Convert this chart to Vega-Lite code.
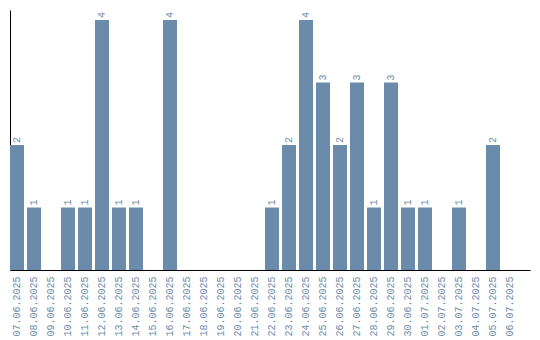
{
  "$schema": "https://vega.github.io/schema/vega-lite/v6.json",
  "width": 520,
  "height": 260,
  "autosize": {"type": "none"},
  "padding": {"left": 10, "top": 10, "right": 10, "bottom": 70},
  "background": "white",
  "config": {"view": {"stroke": null}},
  "data": {"values": [
    {"date": "07.06.2025", "count": 2},
    {"date": "08.06.2025", "count": 1},
    {"date": "09.06.2025", "count": 0},
    {"date": "10.06.2025", "count": 1},
    {"date": "11.06.2025", "count": 1},
    {"date": "12.06.2025", "count": 4},
    {"date": "13.06.2025", "count": 1},
    {"date": "14.06.2025", "count": 1},
    {"date": "15.06.2025", "count": 0},
    {"date": "16.06.2025", "count": 4},
    {"date": "17.06.2025", "count": 0},
    {"date": "18.06.2025", "count": 0},
    {"date": "19.06.2025", "count": 0},
    {"date": "20.06.2025", "count": 0},
    {"date": "21.06.2025", "count": 0},
    {"date": "22.06.2025", "count": 1},
    {"date": "23.06.2025", "count": 2},
    {"date": "24.06.2025", "count": 4},
    {"date": "25.06.2025", "count": 3},
    {"date": "26.06.2025", "count": 2},
    {"date": "27.06.2025", "count": 3},
    {"date": "28.06.2025", "count": 1},
    {"date": "29.06.2025", "count": 3},
    {"date": "30.06.2025", "count": 1},
    {"date": "01.07.2025", "count": 1},
    {"date": "02.07.2025", "count": 0},
    {"date": "03.07.2025", "count": 1},
    {"date": "04.07.2025", "count": 0},
    {"date": "05.07.2025", "count": 2},
    {"date": "06.07.2025", "count": 0}
  ]},
  "encoding": {
    "x": {
      "field": "date",
      "type": "ordinal",
      "sort": null,
      "scale": {"paddingInner": 0.176, "paddingOuter": 0.382, "align": 0},
      "axis": {
        "title": null,
        "labelAngle": -90,
        "labelAlign": "right",
        "labelBaseline": "middle",
        "labelColor": "#6a8caa",
        "labelFont": "Liberation Mono",
        "labelFontSize": 10,
        "labelPadding": 6,
        "ticks": false,
        "domainColor": "black",
        "domainWidth": 1,
        "grid": false
      }
    },
    "y": {
      "field": "count",
      "type": "quantitative",
      "scale": {"domain": [0, 4.16], "nice": false},
      "axis": {
        "title": null,
        "labels": false,
        "ticks": false,
        "grid": false,
        "domainColor": "black",
        "domainWidth": 1
      }
    }
  },
  "layer": [
    {"mark": {"type": "bar", "color": "#6a8caa"}},
    {
      "transform": [{"filter": "datum.count > 0"}],
      "mark": {
        "type": "text",
        "angle": 270,
        "align": "left",
        "baseline": "middle",
        "dx": 2,
        "color": "#6a8caa",
        "font": "Liberation Mono",
        "fontSize": 10
      },
      "encoding": {"text": {"field": "count", "type": "quantitative"}}
    }
  ]
}
